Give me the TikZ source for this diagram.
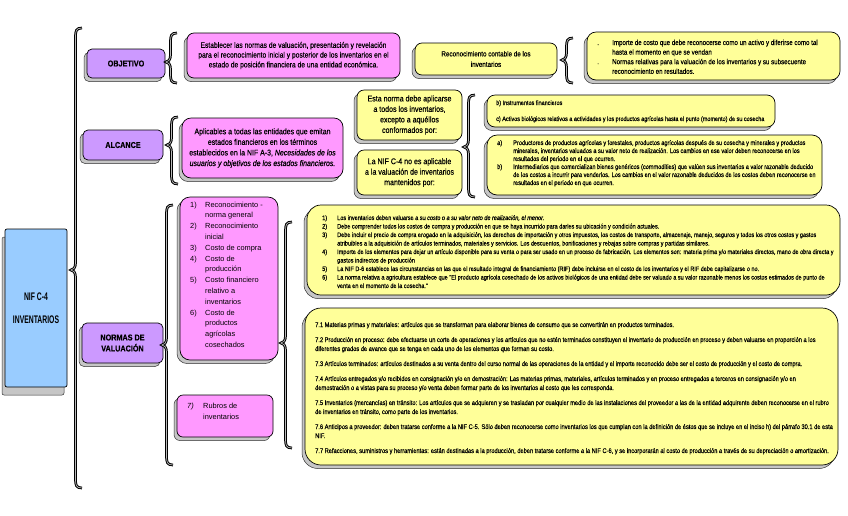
\documentclass[tikz,border=0pt]{standalone}
\usepackage{fontspec}
\setmainfont{Liberation Sans}
\newfontfamily\nar[FakeStretch=0.85,FakeBold=0.4]{Liberation Sans}
\newfontfamily\nifont[FakeStretch=0.62]{Liberation Sans}
\usetikzlibrary{shadows}
\definecolor{purp}{HTML}{CC99FF}
\definecolor{pnk}{HTML}{FF99FF}
\definecolor{yel}{HTML}{FFFF99}
\definecolor{blu}{HTML}{99CCFF}
\newcommand\cbrace[4]{%
  \draw[bracel] ({#1+11},{#2}) .. controls ({#1+5},{#2}) and ({#1+4.5},{#2+3}) .. ({#1+4.5},{#2+9})
   -- ({#1+4.5},{#3-7}) .. controls ({#1+4.5},{#3-2}) and ({#1+2},{#3}) .. ({#1},{#3})
   .. controls ({#1+2},{#3}) and ({#1+4.5},{#3+2}) .. ({#1+4.5},{#3+7})
   -- ({#1+4.5},{#4-9}) .. controls ({#1+4.5},{#4-3}) and ({#1+5},{#4}) .. ({#1+11},{#4});}
\tikzset{
  bracel/.style={draw=black, line width=1pt, double=gray!55, double distance=0.7pt},
  shad/.style={drop shadow={shadow xshift=-3pt, shadow yshift=-3.5pt, fill=gray!45, draw=gray!40!black, line width=0.5pt, opacity=1}},
  shadbig/.style={drop shadow={shadow xshift=-3pt, shadow yshift=-8pt, fill=gray!45, draw=gray!40!black, line width=0.5pt, opacity=1}},
  basebox/.style={draw=black, line width=0.7pt, inner sep=0pt},
  headbox/.style={basebox, shad, fill=purp, rounded corners=5pt, font=\nar\bfseries\fontsize{8.5}{11}\selectfont, align=center},
  pbox/.style={basebox, shad, fill=pnk, rounded corners=7pt, align=center},
  ybox/.style={basebox, shad, fill=yel, rounded corners=7pt, align=center},
  bigy/.style={basebox, shad, fill=yel, rounded corners=14pt},
  txt/.style={inner sep=0pt, anchor=base west},
}
\begin{document}
\begin{tikzpicture}[x=1pt,y=-1pt]
\useasboundingbox[fill=white] (0,0) rectangle (848,515);

% root
\node[basebox, shadbig, fill=blu, rounded corners=2pt, minimum width=62pt, minimum height=158pt, align=center,
      font=\nifont\bfseries\fontsize{11}{23}\selectfont] (nif) at (36,308) {NIF C-4\\INVENTARIOS};

% OBJETIVO
\node[headbox, minimum width=78pt, minimum height=29pt] (obj) at (126,63.5) {OBJETIVO};
\node[pbox, minimum width=213pt, minimum height=45pt, font=\nar\fontsize{7.9}{9.8}\selectfont] (objp) at (293.5,55.5)
  {Establecer las normas de valuación, presentación y revelación\\para el reconocimiento inicial y posterior de los inventarios en el\\estado de posición financiera de una entidad económica.};
\node[ybox, minimum width=142pt, minimum height=32pt, font=\nar\fontsize{7.4}{10.5}\selectfont] (rec) at (486,59)
  {Reconocimiento contable de los\\inventarios};
\node[bigy, rounded corners=9pt, minimum width=253pt, minimum height=48pt] (bul) at (713.5,56) {};
\node[txt, font=\nar\fontsize{7.25}{9.6}\selectfont] (bult) at (597,45)
  {\begin{tabular}[t]{@{}p{15pt}@{}l@{}}
   .&Importe de costo que debe reconocerse como un activo y diferirse como tal\\
    &hasta el momento en que se vendan\\
   .&Normas relativas para la valuación de los inventarios y su subsecuente\\
    &reconocimiento en resultados.
   \end{tabular}};

% ALCANCE
\node[headbox, minimum width=80pt, minimum height=30pt] (alc) at (123,145) {ALCANCE};
\node[pbox, rounded corners=9pt, minimum width=161pt, minimum height=60pt, font=\nar\fontsize{8.2}{10.6}\selectfont] (alcp) at (262.5,148)
  {Aplicables a todas las entidades que emitan\\estados financieros en los términos\\establecidos en la NIF A-3, \textit{Necesidades de los}\\\textit{usuarios y objetivos de los estados financieros.}};
\node[ybox, minimum width=105pt, minimum height=50pt, font=\nar\fontsize{8.3}{10.5}\selectfont] (exc) at (409.5,115)
  {Esta norma debe aplicarse\\a todos los inventarios,\\excepto a aquéllos\\conformados por:};
\node[ybox, minimum width=105pt, minimum height=45pt, font=\nar\fontsize{8.3}{10.5}\selectfont] (noap) at (409.5,172.5)
  {La NIF C-4 no es aplicable\\a la valuación de inventarios\\mantenidos por:};
\node[bigy, rounded corners=8pt, minimum width=288pt, minimum height=32pt] (bc) at (631,111) {};
\node[txt, font=\nar\fontsize{6.45}{8}\selectfont] (bct) at (496,105)
  {\begin{tabular}[t]{@{}l@{}}
   b) Instrumentos financieros\\[8pt]
   c) Activos biológicos relativos a actividades y los productos agrícolas hasta el punto (momento) de su cosecha
   \end{tabular}};
\node[bigy, rounded corners=10pt, minimum width=335pt, minimum height=60pt] (ab) at (654.5,165) {};
\node[txt, font=\nar\fontsize{6.6}{8}\selectfont] (abt) at (497,145)
  {\begin{tabular}[t]{@{}p{16pt}@{}l@{}}
   a)&Productores de productos agrícolas y forestales, productos agrícolas después de su cosecha y minerales y productos\\
     &minerales, inventarios valuados a su valor neto de realización. Los cambios en ese valor deben reconocerse en los\\
     &resultados del periodo en el que ocurren.\\
   b)&Intermediarios que comercializan bienes genéricos (commodities) que valúen sus inventarios a valor razonable deducido\\
     &de los costos a incurrir para venderlos. Los cambios en el valor razonable deducidos de los costos deben reconocerse en\\
     &resultados en el periodo en que ocurren.
   \end{tabular}};

% NORMAS DE VALUACION
\node[headbox, minimum width=81pt, minimum height=40pt] (norm) at (122.5,343) {NORMAS DE\\VALUACIÓN};
\node[pbox, rounded corners=10pt, minimum width=98pt, minimum height=163pt] (lst) at (229,278.5) {};
\node[txt, font=\fontsize{7.4}{10.8}\selectfont] (lstt) at (190,207)
  {\begin{tabular}[t]{@{}p{15pt}@{}l@{}}
   1)&Reconocimiento -\\ &norma general\\
   2)&Reconocimiento\\ &inicial\\
   3)&Costo de compra\\
   4)&Costo de\\ &producción\\
   5)&Costo financiero\\ &relativo a\\ &inventarios\\
   6)&Costo de\\ &productos\\ &agrícolas\\ &cosechados
   \end{tabular}};
\node[pbox, rounded corners=6pt, minimum width=96pt, minimum height=42pt] (r7) at (225,416) {};
\node[txt, font=\fontsize{7.4}{11}\selectfont] (r7t) at (187,408)
  {\begin{tabular}[t]{@{}p{16pt}@{}l@{}}\textit{7)}&Rubros de\\&inventarios\end{tabular}};

\node[bigy, minimum width=533pt, minimum height=90pt] (y1) at (573.5,250) {};
\node[txt, font=\nar\fontsize{6.5}{8.5}\selectfont] (y1t) at (322,220)
  {\begin{tabular}[t]{@{}p{15pt}@{}l@{}}
   1)&Los inventarios deben valuarse a su \textit{costo o a su valor neto de realización, el menor.}\\
   2)&Debe comprender todos los costos de compra y producción en que se haya incurrido para darles su ubicación y condición actuales.\\
   3)&Debe incluir el precio de compra erogado en la adquisición, los derechos de importación y otros impuestos, los costos de transporte, almacenaje, manejo, seguros y todos los otros costos y gastos\\
     &atribuibles a la adquisición de artículos terminados, materiales y servicios. Los descuentos, bonificaciones y rebajas sobre compras y partidas similares.\\
   4)&Importe de los elementos para dejar un artículo disponible para su venta o para ser usado en un proceso de fabricación. Los elementos son: materia prima y/o materiales directos, mano de obra directa y\\
     &gastos indirectos de producción\\
   5)&La NIF D-6 establece las circunstancias en las que el resultado integral de financiamiento (RIF) debe incluirse en el costo de los inventarios y el RIF debe capitalizarse o no.\\
   6)&La norma relativa a agricultura establece que "El producto agrícola cosechado de los activos biológicos de una entidad debe ser valuado a su valor razonable menos los costos estimados de punto de\\
     &venta en el momento de la cosecha."
   \end{tabular}};

\node[bigy, rounded corners=16pt, minimum width=533pt, minimum height=157pt] (y2) at (571.5,386.5) {};
\node[txt, font=\nar\fontsize{6.7}{9}\selectfont] (y2t) at (315,327)
  {\begin{tabular}[t]{@{}l@{}}
   7.1 Materias primas y materiales: artículos que se transforman para elaborar bienes de consumo que se convertirán en productos terminados.\\[6pt]
   7.2 Producción en proceso: debe efectuarse un corte de operaciones y los artículos que no estén terminados constituyen el inventario de producción en proceso y deben valuarse en proporción a los\\
   diferentes grados de avance que se tenga en cada uno de los elementos que forman su costo.\\[6pt]
   7.3 Artículos terminados: artículos destinados a su venta dentro del curso normal de las operaciones de la entidad y el importe reconocido debe ser el costo de producción y el costo de compra.\\[6pt]
   7.4 Artículos entregados y/o recibidos en consignación y/o en demostración: Las materias primas, materiales, artículos terminados y en proceso entregados a terceros en consignación y/o en\\
   demostración o a vistas para su proceso y/o venta deben formar parte de los inventarios al costo que les corresponda.\\[6pt]
   7.5 Inventarios (mercancías) en tránsito: Los artículos que se adquieren y se trasladan por cualquier medio de las instalaciones del proveedor a las de la entidad adquirente deben reconocerse en el rubro\\
   de inventarios en tránsito, como parte de los inventarios.\\[6pt]
   7.6 Anticipos a proveedor: deben tratarse conforme a la NIF C-5. Sólo deben reconocerse como inventarios los que cumplan con la definición de éstos que se incluye en el inciso h) del párrafo 30.1 de esta\\
   NIF.\\[6pt]
   7.7 Refacciones, suministros y herramientas: están destinadas a la producción, deben tratarse conforme a la NIF C-6, y se incorporarán al costo de producción a través de su depreciación o amortización.
   \end{tabular}};

% braces
\cbrace{71}{28}{270}{488}
\cbrace{166}{33}{62}{83}
\cbrace{562}{38}{60}{83}
\cbrace{167}{117}{145}{184}
\cbrace{464}{95}{147}{197}
\cbrace{162}{205}{345}{465}
\cbrace{281}{222}{343}{448}
\end{tikzpicture}
\end{document}
